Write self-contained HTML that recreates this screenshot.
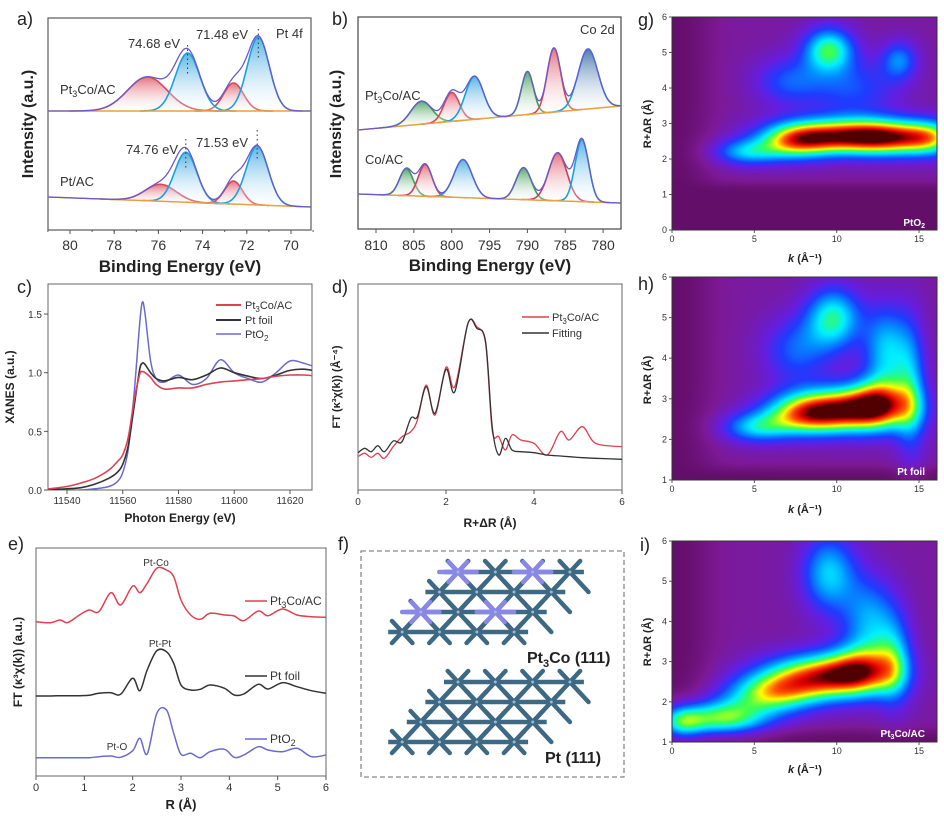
<!DOCTYPE html>
<html><head><meta charset="utf-8">
<style>
body{margin:0;background:#fff;width:944px;height:820px;overflow:hidden;position:relative;font-family:"Liberation Sans",sans-serif}
canvas{position:absolute}
svg{position:absolute;left:0;top:0}
text{font-family:"Liberation Sans",sans-serif}
</style></head>
<body>
<canvas id="cg" width="265" height="213" style="left:672px;top:17px"></canvas>
<canvas id="ch" width="265" height="203" style="left:672px;top:277px"></canvas>
<canvas id="ci" width="265" height="201" style="left:672px;top:541px"></canvas>
<svg id="s" width="944" height="820" xmlns="http://www.w3.org/2000/svg">
<defs>
<linearGradient id="gb" x1="0" y1="0" x2="0" y2="1"><stop offset="0" stop-color="#3aa6e0" stop-opacity="0.85"/><stop offset="1" stop-color="#ffffff" stop-opacity="0.2"/></linearGradient>
<linearGradient id="gr" x1="0" y1="0" x2="0" y2="1"><stop offset="0" stop-color="#e05a6a" stop-opacity="0.85"/><stop offset="1" stop-color="#ffffff" stop-opacity="0.2"/></linearGradient>
<linearGradient id="gg" x1="0" y1="0" x2="0" y2="1"><stop offset="0" stop-color="#3a9a50" stop-opacity="0.85"/><stop offset="1" stop-color="#ffffff" stop-opacity="0.2"/></linearGradient>
<linearGradient id="gd" x1="0" y1="0" x2="0" y2="1"><stop offset="0" stop-color="#3a6ea8" stop-opacity="0.9"/><stop offset="1" stop-color="#ffffff" stop-opacity="0.2"/></linearGradient>
<clipPath id="clA"><rect x="48" y="18" width="263" height="212"/></clipPath>
<clipPath id="clB"><rect x="358" y="17" width="263" height="212"/></clipPath>
<clipPath id="clC"><rect x="48" y="284" width="264" height="206"/></clipPath>
<clipPath id="clD"><rect x="358" y="284" width="264" height="206"/></clipPath>
<clipPath id="clE"><rect x="36" y="548" width="290" height="228"/></clipPath>
</defs>
<g font-size="18" fill="#222">
<text x="17" y="25">a)</text>
<text x="332" y="25">b)</text>
<text x="638" y="26">g)</text>
<text x="17" y="293">c)</text>
<text x="332" y="293">d)</text>
<text x="638" y="290">h)</text>
<text x="8" y="550">e)</text>
<text x="338" y="550">f)</text>
<text x="640" y="551">i)</text>
</g>
<rect x="48" y="18" width="263" height="212" fill="none" stroke="#666" stroke-width="1.3"/>
<rect x="358" y="17" width="263" height="212" fill="none" stroke="#555" stroke-width="1.3"/>
<rect x="48" y="284" width="264" height="206" fill="none" stroke="#666" stroke-width="1"/>
<rect x="358" y="284" width="264" height="206" fill="none" stroke="#666" stroke-width="1"/>
<rect x="36" y="548" width="290" height="228" fill="none" stroke="#666" stroke-width="1"/>
<rect x="361" y="551" width="263" height="226" fill="none" stroke="#888" stroke-width="1.3" stroke-dasharray="5,3"/>
<text x="180" y="272" font-size="17" font-weight="bold" text-anchor="middle" fill="#222">Binding Energy (eV)</text>
<text x="490" y="271" font-size="17" font-weight="bold" text-anchor="middle" fill="#222">Binding Energy (eV)</text>
<text transform="translate(33,124) rotate(-90)" font-size="16" font-weight="bold" text-anchor="middle" fill="#222">Intensity (a.u.)</text>
<text transform="translate(341,124) rotate(-90)" font-size="16" font-weight="bold" text-anchor="middle" fill="#222">Intensity (a.u.)</text>
<text x="180" y="522" font-size="12" font-weight="bold" text-anchor="middle" fill="#222">Photon Energy (eV)</text>
<text transform="translate(14,387) rotate(-90)" font-size="12" font-weight="bold" text-anchor="middle" fill="#222">XANES (a.u.)</text>
<text x="490" y="527" font-size="12" font-weight="bold" text-anchor="middle" fill="#222">R+ΔR (Å)</text>
<text transform="translate(340,387) rotate(-90)" font-size="11" font-weight="bold" text-anchor="middle" fill="#222">FT (κ³χ(k)) (Å⁻⁴)</text>
<text x="181" y="809" font-size="13" font-weight="bold" text-anchor="middle" fill="#222">R (Å)</text>
<text transform="translate(22,662) rotate(-90)" font-size="12" font-weight="bold" text-anchor="middle" fill="#222">FT (κ³χ(k)) (a.u.)</text>
<text x="805" y="262" font-size="11" font-weight="bold" text-anchor="middle" fill="#222"><tspan font-style="italic">k</tspan> (Å⁻¹)</text>
<text x="805" y="513" font-size="11" font-weight="bold" text-anchor="middle" fill="#222"><tspan font-style="italic">k</tspan> (Å⁻¹)</text>
<text x="805" y="773" font-size="11" font-weight="bold" text-anchor="middle" fill="#222"><tspan font-style="italic">k</tspan> (Å⁻¹)</text>
<text transform="translate(651,124) rotate(-90)" font-size="11" font-weight="bold" text-anchor="middle" fill="#222">R+ΔR (Å)</text>
<text transform="translate(651,380) rotate(-90)" font-size="11" font-weight="bold" text-anchor="middle" fill="#222">R+ΔR (Å)</text>
<text transform="translate(651,642) rotate(-90)" font-size="11" font-weight="bold" text-anchor="middle" fill="#222">R+ΔR (Å)</text>
<g font-size="13" fill="#333">
<text x="180" y="48" text-anchor="end">74.68 eV</text>
<text x="248" y="39" text-anchor="end">71.48 eV</text>
<text x="276" y="38">Pt 4f</text>
<text x="60" y="94">Pt<tspan font-size="9" dy="3">3</tspan><tspan dy="-3">Co/AC</tspan></text>
<text x="60" y="186">Pt/AC</text>
<text x="178" y="154" text-anchor="end">74.76 eV</text>
<text x="248" y="147" text-anchor="end">71.53 eV</text>
<text x="580" y="34">Co 2d</text>
<text x="365" y="100">Pt<tspan font-size="9" dy="3">3</tspan><tspan dy="-3">Co/AC</tspan></text>
<text x="365" y="164">Co/AC</text>
</g>
<g font-size="11" fill="#333">
<line x1="216" y1="305" x2="241" y2="305" stroke="#e04050" stroke-width="2"/>
<text x="245" y="309">Pt<tspan font-size="8" dy="3">3</tspan><tspan dy="-3">Co/AC</tspan></text>
<line x1="216" y1="320" x2="241" y2="320" stroke="#333" stroke-width="2"/>
<text x="245" y="324">Pt foil</text>
<line x1="216" y1="334" x2="241" y2="334" stroke="#6a6ad0" stroke-width="1.5"/>
<text x="245" y="338">PtO<tspan font-size="8" dy="3">2</tspan></text>
<line x1="522" y1="317" x2="549" y2="317" stroke="#e04050" stroke-width="1.5"/>
<text x="552" y="321">Pt<tspan font-size="8" dy="3">3</tspan><tspan dy="-3">Co/AC</tspan></text>
<line x1="522" y1="333" x2="549" y2="333" stroke="#333" stroke-width="1.5"/>
<text x="552" y="337">Fitting</text>
</g>
<g font-size="12" fill="#333">
<line x1="245" y1="601" x2="267" y2="601" stroke="#e04050" stroke-width="1.5"/>
<text x="270" y="605">Pt<tspan font-size="9" dy="3">3</tspan><tspan dy="-3">Co/AC</tspan></text>
<line x1="245" y1="676" x2="267" y2="676" stroke="#333" stroke-width="1.5"/>
<text x="270" y="680">Pt foil</text>
<line x1="245" y1="739" x2="267" y2="739" stroke="#6a6ad0" stroke-width="1.5"/>
<text x="270" y="743">PtO<tspan font-size="9" dy="3">2</tspan></text>
<text x="156" y="566" font-size="10" text-anchor="middle">Pt-Co</text>
<text x="160" y="647" font-size="10" text-anchor="middle">Pt-Pt</text>
<text x="117" y="750" font-size="10" text-anchor="middle">Pt-O</text>
</g>
<g id="dyn"></g>
<text x="527" y="663" font-size="16" font-weight="bold" fill="#222">Pt<tspan font-size="11" dy="4">3</tspan><tspan dy="-4">Co (111)</tspan></text>
<text x="545" y="763" font-size="16" font-weight="bold" fill="#222">Pt (111)</text>
<g font-size="10" font-weight="bold" fill="#fff">
<text x="925" y="226" text-anchor="end">PtO<tspan font-size="7" dy="2">2</tspan></text>
<text x="925" y="475" text-anchor="end">Pt foil</text>
<text x="925" y="737" text-anchor="end">Pt<tspan font-size="7" dy="2">3</tspan><tspan dy="-2">Co/AC</tspan></text>
</g>
</svg>
<script>
// ---------- data ----------
const aPt3CoBlue=[[71.48,74,0.5],[74.68,58,0.55]];
const aPt3CoRed=[[72.6,28,0.45],[76.5,34,0.9]];
const aPt3CoBase=[119,119];
const aPtBlue=[[71.53,59,0.5],[74.76,50,0.5]];
const aPtRed=[[72.6,23,0.4],[75.9,17,0.7]];
const aPtBase=[33,23];
const aTicks=[80,78,76,74,72,70];
const bPt3CoGreen=[[804,23,1.4],[790,43,0.8]];
const bPt3CoRed=[[800,29,1.0],[786.5,64,0.9]];
const bPt3CoBlue=[[797,43,1.2]];
const bPt3CoDark=[[782,60,1.3]];
const bPt3CoBase=[99,123];
const bCoGreen=[[806,27,0.9],[790.5,32,1.0]];
const bCoRed=[[803.5,32,0.9],[786,48,1.2]];
const bCoBlue=[[798.5,38,1.2],[782.8,62,0.9]];
const bCoBase=[35,26];
const bTicks=[810,805,800,795,790,785,780];
const cEnergy=[11530,11540,11545,11550,11555,11558,11560,11562,11564,11566,11567,11568,11570,11572,11575,11580,11585,11590,11595,11600,11605,11610,11615,11620,11625,11630];
const cPt3Co=[0,0.03,0.06,0.1,0.17,0.24,0.3,0.45,0.75,0.98,1.01,1.0,0.96,0.9,0.86,0.87,0.87,0.9,0.92,0.93,0.94,0.95,0.97,0.98,0.98,0.97];
const cPtFoil=[0,0.01,0.02,0.05,0.1,0.15,0.22,0.38,0.7,1.02,1.08,1.07,1.0,0.95,0.93,0.96,0.94,0.98,1.04,1.0,0.97,0.95,0.98,1.02,1.03,1.01];
const cPtO2=[0,0,0,0.01,0.03,0.07,0.15,0.35,0.8,1.4,1.6,1.5,1.1,0.95,0.92,0.98,0.9,0.95,1.11,1.0,0.95,0.92,1.0,1.1,1.08,1.04];
const cXTicks=[11540,11560,11580,11600,11620];
const cYTicks=[0.0,0.5,1.0,1.5];
const dR=[0,0.15,0.3,0.45,0.6,0.8,1.0,1.2,1.35,1.55,1.75,2.0,2.2,2.5,2.7,2.9,3.05,3.2,3.35,3.5,3.7,4.0,4.3,4.6,4.8,5.1,5.4,6.0];
const dFit=[37.3,41.7,38.3,44.3,38.3,49,48.3,71.7,73.3,103.3,76.7,120.7,98.3,166.7,161.7,148.3,63.3,35,51.7,40,38.3,37.3,35,34,33.3,32.3,31.7,30.7];
const dPt3Co=[33.3,36.7,32.7,36.7,31.7,43.3,53.3,58.3,70,105,75,122.7,103.3,166.7,163.3,146.7,60,53.3,40,55,50,46.7,35,58.3,50,63.3,46.7,43.3];
const dTicks=[0,2,4,6];
const eR=[0,0.3,0.5,0.65,0.9,1.1,1.3,1.55,1.75,2.0,2.15,2.3,2.5,2.7,2.85,3.0,3.2,3.4,3.6,3.9,4.1,4.3,4.6,4.8,5.1,5.4,5.7,6.0];
const ePt3Co=[154.3,153.3,156,153.3,161,166,164.3,183.3,171,190,183.3,192.7,207.7,206,199.3,176,161,156.7,162.7,161,160,155.3,165,160.3,167,161,159.3,158.7];
const ePtFoil=[80,80,80.3,80.3,80.3,80.7,82.7,83.3,81.7,97.7,85.3,106,125.3,124.3,112.7,91,86,86.7,91,87.7,81,82,91.7,87,93.3,89.3,85.3,82.7];
const ePtO2=[18.3,18.3,18.3,18.3,18.3,18.3,19.3,20,18.7,25.3,37.7,22,62.7,66,42.7,21.7,22.7,18.3,24.3,26.7,18.7,21,29.3,26,24.3,27.7,19.3,21];
const eTicks=[0,1,2,3,4,5,6];
// wavelet maps: [k, R, amplitude, sigmaK, sigmaR]
const gBlobs=[[10.5,2.65,0.72,3,0.36],[13.5,2.6,0.38,2,0.36],[7.5,2.5,0.38,1.5,0.36],[4.5,2.2,0.33,1.5,0.27],[15.8,2.6,0.33,1.2,0.36],[9.5,5.1,0.47,1.1,0.45],[13.8,4.8,0.27,0.8,0.4],[7,4.2,0.22,1.5,0.5],[11,4,0.22,2,0.6]];
const hBlobs=[[10.5,2.75,0.68,2.5,0.4],[8,2.6,0.4,1.8,0.35],[5,2.3,0.33,1.5,0.27],[12.5,2.9,0.4,1.3,0.45],[9.8,5.0,0.44,1.2,0.55],[13,4.2,0.36,1,0.8],[14.5,3.2,0.3,0.7,1.2],[7.5,4.2,0.24,1.5,0.6]];
const iBlobs=[[9,2.65,0.68,2.5,0.4],[6,2.2,0.46,2,0.35],[3,1.6,0.52,2,0.32],[0.5,1.5,0.4,1,0.3],[11.5,2.8,0.4,1.5,0.45],[9.5,5.2,0.37,1.2,0.7],[12,4.0,0.32,1.2,0.8],[13.5,3.0,0.3,0.8,0.8]];
const kTicks=[0,5,10,15];
const rTicksG=[0,1,2,3,4,5,6];
const rTicksHI=[1,2,3,4,5,6];

// ---------- helpers ----------
const NS='http://www.w3.org/2000/svg';
const dyn=document.getElementById('dyn');
function mk(tag){const e=document.createElementNS(NS,tag);dyn.appendChild(e);return e;}
function smooth(pts){let d='M'+pts[0][0].toFixed(1)+','+pts[0][1].toFixed(1);
 for(let i=0;i<pts.length-1;i++){const p0=pts[Math.max(0,i-1)],p1=pts[i],p2=pts[i+1],p3=pts[Math.min(pts.length-1,i+2)];
 d+=' C'+(p1[0]+(p2[0]-p0[0])/6).toFixed(1)+','+(p1[1]+(p2[1]-p0[1])/6).toFixed(1)+' '+(p2[0]-(p3[0]-p1[0])/6).toFixed(1)+','+(p2[1]-(p3[1]-p1[1])/6).toFixed(1)+' '+p2[0].toFixed(1)+','+p2[1].toFixed(1);}
 return d;}
function poly(pts){return 'M'+pts.map(p=>p[0].toFixed(1)+','+p[1].toFixed(1)).join(' L');}
function gauss(v,pk){return pk[1]*Math.exp(-0.5*Math.pow((v-pk[0])/pk[2],2));}
function tickText(x,y,s,anchor,size,name){const t=mk('text');t.setAttribute('x',x);t.setAttribute('y',y);t.setAttribute('font-size',size);t.setAttribute('text-anchor',anchor);t.setAttribute('fill','#333');t.textContent=s;
 
 }
function tickLine(x1,y1,x2,y2,name){const l=mk('line');l.setAttribute('x1',x1);l.setAttribute('y1',y1);l.setAttribute('x2',x2);l.setAttribute('y2',y2);l.setAttribute('stroke','#555');l.setAttribute('stroke-width','1');
 
 }

// ---------- XPS ----------
function xpsPanel(sx,sy,lo,hi,base,groups,clip,tag){
 const baseAt=v=>base[0]+(base[1]-base[0])*(lo-v)/(lo-hi);
 const all=[];groups.forEach(g=>g.peaks.forEach(p=>all.push(p)));
 groups.forEach((g,gi)=>g.peaks.forEach((pk,pi)=>{
  const pts=[];const ptsB=[];
  for(let v=pk[0]-4*pk[2];v<=pk[0]+4*pk[2];v+=0.04){pts.push([sx(v),sy(baseAt(v)+gauss(v,pk))]);}
  for(let v=pk[0]+4*pk[2];v>=pk[0]-4*pk[2];v-=0.04){ptsB.push([sx(v),sy(baseAt(v))]);}
  const f=mk('path');f.setAttribute('d',poly(pts.concat(ptsB))+'Z');f.setAttribute('fill','url(#'+g.grad+')');f.setAttribute('clip-path','url(#'+clip+')');
  
  
  const l=mk('path');l.setAttribute('d',poly(pts));l.setAttribute('fill','none');l.setAttribute('stroke',g.color);l.setAttribute('stroke-width','1.6');l.setAttribute('clip-path','url(#'+clip+')');
  
  
 }));
 const env=[],bl=[];
 for(let v=lo;v>=hi;v-=0.04){let s=0;all.forEach(p=>s+=gauss(v,p));env.push([sx(v),sy(baseAt(v)+s)]);bl.push([sx(v),sy(baseAt(v))]);}
 const b=mk('path');b.setAttribute('d',poly(bl));b.setAttribute('fill','none');b.setAttribute('stroke','#e8a040');b.setAttribute('stroke-width','1.5');b.setAttribute('clip-path','url(#'+clip+')');
 
 
 const e=mk('path');e.setAttribute('d',poly(env));e.setAttribute('fill','none');e.setAttribute('stroke','#6a5acd');e.setAttribute('stroke-width','1.3');e.setAttribute('clip-path','url(#'+clip+')');
 
 
}
const ax=v=>70+(80-v)*22.1, ay=v=>230-v;
xpsPanel(ax,ay,81,69.1,aPt3CoBase,[{peaks:aPt3CoRed,grad:'gr',color:'#d84858'},{peaks:aPt3CoBlue,grad:'gb',color:'#1aa0e0'}],'clA','pt3co-pt4f');
xpsPanel(ax,ay,81,69.1,aPtBase,[{peaks:aPtRed,grad:'gr',color:'#d84858'},{peaks:aPtBlue,grad:'gb',color:'#1aa0e0'}],'clA','pt-ac-pt4f');
[[aPt3CoBlue,aPt3CoBase],[aPtBlue,aPtBase]].forEach((pr,j)=>pr[0].forEach((pk,i)=>{
 const l=mk('line');const x=ax(pk[0]);const top=ay(pr[1][0]+pk[1])-8;l.setAttribute('x1',x);l.setAttribute('x2',x);l.setAttribute('y1',top);l.setAttribute('y2',top+30);l.setAttribute('stroke','#333');l.setAttribute('stroke-dasharray','1.5,3');
 
 }));
aTicks.forEach(v=>{tickLine(ax(v),230,ax(v),234,'x-tick-a');tickText(ax(v),250,v,'middle',14,'x-tick-label-a');});
for(let v=81;v>=69;v--)tickLine(ax(v),230,ax(v),232,'x-minor-tick-a');
const bx=v=>376+(810-v)*7.57, by=v=>229-v;
xpsPanel(bx,by,812.4,777.7,bPt3CoBase,[{peaks:bPt3CoGreen,grad:'gg',color:'#3aa050'},{peaks:bPt3CoRed,grad:'gr',color:'#d84858'},{peaks:bPt3CoBlue,grad:'gb',color:'#1aa0e0'},{peaks:bPt3CoDark,grad:'gd',color:'#1aa0e0'}],'clB','pt3co-co2d');
xpsPanel(bx,by,812.4,777.7,bCoBase,[{peaks:bCoGreen,grad:'gg',color:'#3aa050'},{peaks:bCoRed,grad:'gr',color:'#c84060'},{peaks:bCoBlue,grad:'gb',color:'#1aa0e0'}],'clB','co-ac-co2d');
bTicks.forEach(v=>{tickLine(bx(v),229,bx(v),233,'x-tick-b');tickText(bx(v),250,v,'middle',14,'x-tick-label-b');});

// ---------- line panels ----------
function series(xs,ys,sx,sy,color,w,clip,name){const pts=xs.map((x,i)=>[sx(x),sy(ys[i])]);const p=mk('path');p.setAttribute('d',smooth(pts));p.setAttribute('fill','none');p.setAttribute('stroke',color);p.setAttribute('stroke-width',w);p.setAttribute('clip-path','url(#'+clip+')');
 
 }
const cx=v=>67+(v-11540)*2.7875, cy=v=>490-v*117.3;
series(cEnergy,cPtO2,cx,cy,'#6a6ad0',1.5,'clC','xanes-pto2');
series(cEnergy,cPtFoil,cx,cy,'#333',1.6,'clC','xanes-pt-foil');
series(cEnergy,cPt3Co,cx,cy,'#e04050',1.6,'clC','xanes-pt3co');
cXTicks.forEach(v=>{tickLine(cx(v),490,cx(v),494,'x-tick-c');tickText(cx(v),504,v,'middle',10,'x-tick-label-c');});
cYTicks.forEach(v=>{tickLine(44,cy(v),48,cy(v),'y-tick-c');tickText(42,cy(v)+4,v.toFixed(1),'end',10,'y-tick-label-c');});
const dx=v=>358+v*44, dy=v=>490-v;
series(dR,dPt3Co,dx,dy,'#e04050',1.3,'clD','exafs-pt3co');
series(dR,dFit,dx,dy,'#333',1.3,'clD','exafs-fitting');
dTicks.forEach(v=>{tickLine(dx(v),490,dx(v),494,'x-tick-d');tickText(dx(v),505,v,'middle',10,'x-tick-label-d');});
const ex=v=>36+v*48.33, ey=v=>776-v;
series(eR,ePt3Co,ex,ey,'#e04050',1.5,'clE','ft-pt3co');
series(eR,ePtFoil,ex,ey,'#333',1.5,'clE','ft-pt-foil');
series(eR,ePtO2,ex,ey,'#6a6ad0',1.5,'clE','ft-pto2');
eTicks.forEach(v=>{tickLine(ex(v),776,ex(v),780,'x-tick-e');tickText(ex(v),791,v,'middle',11,'x-tick-label-e');});

// ---------- wavelet maps ----------
const stops=[[0,[90,10,90]],[0.12,[125,25,150]],[0.25,[100,30,225]],[0.35,[30,60,255]],[0.45,[0,150,255]],[0.55,[0,240,255]],[0.65,[60,255,80]],[0.75,[255,255,0]],[0.85,[255,80,0]],[0.93,[225,0,0]],[1,[80,0,0]]];
function cmap(v){v=Math.max(0,Math.min(1,v));for(let i=1;i<stops.length;i++){if(v<=stops[i][0]){const a=stops[i-1],b=stops[i];const t=(v-a[0])/(b[0]-a[0]);return a[1].map((c,j)=>c+(b[1][j]-c)*t);}}return stops[stops.length-1][1];}
const sig=z=>1/(1+Math.exp(-z));
function drawMap(id,blobs,rmin,rmax){const c=document.getElementById(id);const ctx=c.getContext('2d');const W=c.width,H=c.height;const img=ctx.createImageData(W,H);
 for(let py=0;py<H;py++){const R=rmax-(py/H)*(rmax-rmin);for(let px=0;px<W;px++){const k=px/W*16.1;
  let v=0.03+0.11*sig((R-1.3)*12)*sig((k-2)*1.5);
  blobs.forEach(b=>{v+=b[2]*Math.exp(-0.5*(Math.pow((k-b[0])/b[3],2)+Math.pow((R-b[1])/b[4],2)));});
  const col=cmap(v);const o=(py*W+px)*4;img.data[o]=col[0];img.data[o+1]=col[1];img.data[o+2]=col[2];img.data[o+3]=255;}}
 ctx.putImageData(img,0,0);}
drawMap('cg',gBlobs,0,6);drawMap('ch',hBlobs,1,6);drawMap('ci',iBlobs,1,6);
function mapAxes(top,bot,rmin,rt,tag){const kx=k=>672+k*16.47;const ry=R=>bot-(R-rmin)*(bot-top)/(6-rmin);
 const f=mk('rect');f.setAttribute('x',672);f.setAttribute('y',top);f.setAttribute('width',265);f.setAttribute('height',bot-top);f.setAttribute('fill','none');f.setAttribute('stroke','#333');
 
 
 kTicks.forEach(k=>{tickLine(kx(k),bot,kx(k),bot+3,tag+'-x-tick');tickText(kx(k),bot+12,k,'middle',9,tag+'-x-tick-label');});
 rt.forEach(R=>{tickLine(669,ry(R),672,ry(R),tag+'-y-tick');tickText(667,ry(R)+3,R,'end',9,tag+'-y-tick-label');});}
mapAxes(17,230,0,rTicksG,'map-g');mapAxes(277,480,1,rTicksHI,'map-h');mapAxes(541,742,1,rTicksHI,'map-i');

// ---------- lattices (panel f) ----------
function lattice(x0,y0,co,tag){const dxA=37.3,dyA=20,sh=18.6;const atoms=[];
 for(let r=0;r<4;r++)for(let c=0;c<4;c++)atoms.push([x0-r*sh+c*dxA,y0+r*dyA,r,c]);
 const col='#3d6984';
 for(let r=0;r<4;r++){const y=y0+r*dyA;const l=mk('line');l.setAttribute('x1',x0-r*sh-14);l.setAttribute('x2',x0-r*sh+3*dxA+14);l.setAttribute('y1',y);l.setAttribute('y2',y);l.setAttribute('stroke',col);l.setAttribute('stroke-width','4.5');
  
  }
 atoms.forEach(a=>{[[sh,dyA],[-sh,dyA]].forEach(d=>{const l=mk('line');const s=0.55;l.setAttribute('x1',a[0]-d[0]*s);l.setAttribute('y1',a[1]-d[1]*s);l.setAttribute('x2',a[0]+d[0]*(a[2]<3?1:s));l.setAttribute('y2',a[1]+d[1]*(a[2]<3?1:s));l.setAttribute('stroke',col);l.setAttribute('stroke-width','4.5');l.setAttribute('stroke-linecap','round');
  
  });});
 atoms.forEach(a=>{if(co.some(p=>p[0]===a[2]&&p[1]===a[3])){[[sh,dyA],[-sh,dyA],[dxA,0]].forEach(d=>{const l=mk('line');l.setAttribute('x1',a[0]-d[0]*0.5);l.setAttribute('y1',a[1]-d[1]*0.5);l.setAttribute('x2',a[0]+d[0]*0.5);l.setAttribute('y2',a[1]+d[1]*0.5);l.setAttribute('stroke','#8a88e6');l.setAttribute('stroke-width','4.5');l.setAttribute('stroke-linecap','round');
  
  });}
  const c=mk('circle');c.setAttribute('cx',a[0]);c.setAttribute('cy',a[1]);c.setAttribute('r',1.5);c.setAttribute('fill','#9ab8d0');
  
  });}
lattice(458,572,[[0,0],[0,2],[2,0],[2,2]],'pt3co-lattice');
lattice(458,682,[],'pt-lattice');
</script>
</body></html>
